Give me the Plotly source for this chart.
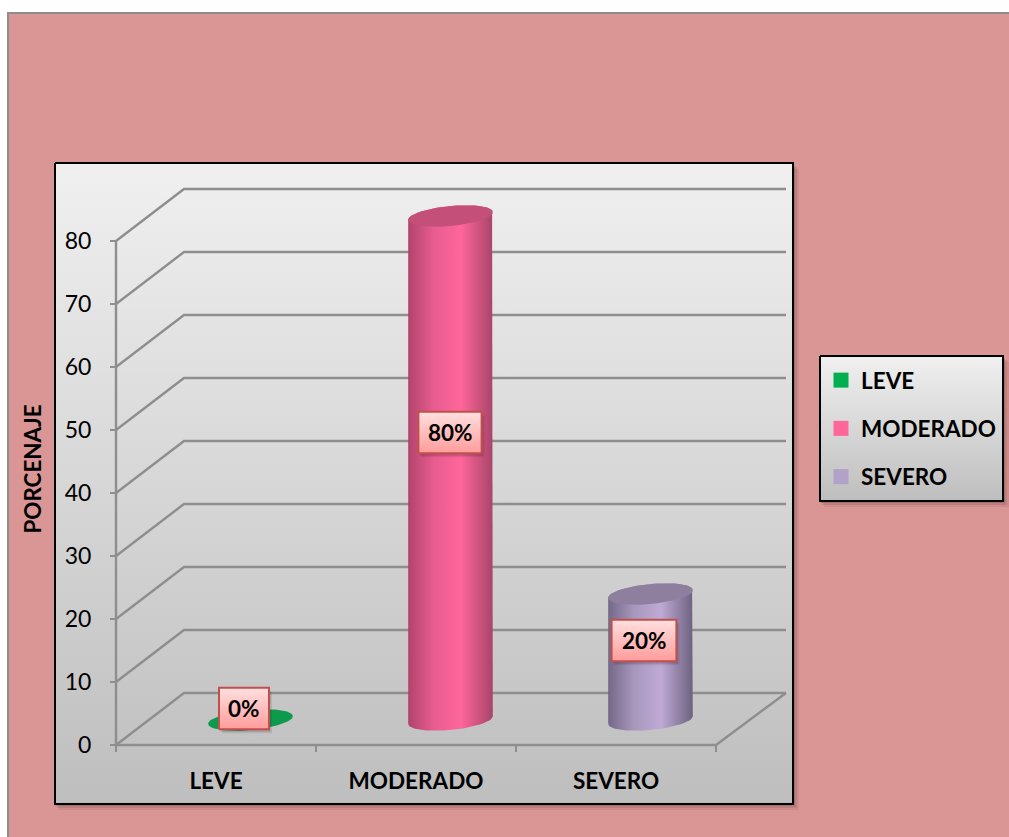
import numpy as np
import plotly.graph_objects as go

categories = ["LEVE", "MODERADO", "SEVERO"]
values = [0, 80, 20]
y_ticks = [0, 10, 20, 30, 40, 50, 60, 70, 80]
bar_body = [
    ["#0E9A4D", "#0E9A4D", "#0E9A4D", "#0E9A4D"],
    ["#B0446C", "#E85C90", "#FF669A", "#A8456A"],
    ["#746887", "#A797BC", "#BFAAD6", "#6E6280"],
]
bar_top = ["#0E9A4D", "#C4507A", "#8F7F9E"]
legend_colors = ["#00B050", "#FF6699", "#B3A2C7"]

W, H = 1009, 837
# pixels per axis unit on the data axes
PX_CAT, PX_VAL = 200, 6.3
ZERO_PX = 745
FONT = "Lato"


def bg_rect(x0, y0, x1, y1, top, bottom):
    # gradient panel, given in page pixels
    return go.Scatter(x=[x0, x1, x1, x0, x0], y=[H-y0, H-y0, H-y1, H-y1, H-y0],
                      mode="lines", fill="toself", line=dict(color="black", width=2),
                      fillgradient=dict(type="vertical", colorscale=[[0, bottom], [1, top]]),
                      xaxis="x", yaxis="y", showlegend=False, hoverinfo="skip")


def ellipse(cat, val, angles):
    ex, ey = 42.5*np.cos(angles), 10*np.sin(angles)
    tilt = 0.096
    px = ex*np.cos(tilt) - ey*np.sin(tilt)
    py = ex*np.sin(tilt) + ey*np.cos(tilt)
    return cat + (34.5 + px)/PX_CAT, val + (25 + py)/PX_VAL


fig = go.Figure()

# page background + shadows
shapes = [
    dict(type="rect", xref="paper", yref="paper", x0=8/W, x1=1.01, y0=-0.01, y1=1-13/H,
         fillcolor="#DA9694", line=dict(color="#8C8C8C", width=2), layer="below"),
]
for off, alpha in [(6, 0.08), (4, 0.12), (2, 0.18)]:
    for x0, y0, x1, y1 in [(55, 163, 793, 804), (820, 356, 1003, 501)]:
        shapes.append(dict(type="rect", xref="paper", yref="paper",
                           x0=(x0+off-2)/W, x1=(x1+off)/W, y0=1-(y1+off)/H, y1=1-(y0+off)/H,
                           fillcolor=f"rgba(60,30,30,{alpha})", line=dict(width=0), layer="below"))

fig.add_trace(bg_rect(55, 163, 793, 804, "#F0F0F0", "#BEBEBE"))
fig.add_trace(bg_rect(820, 356, 1003, 501, "#F0F0F0", "#BEBEBE"))

# walls and floor grid
back_cat, back_val = 68/PX_CAT, 52/PX_VAL
back_right = 2.85
grid_x, grid_y = [], []
for v in y_ticks:
    grid_x += [-0.5, -0.5+back_cat, back_right, None]
    grid_y += [v, v+back_val, v+back_val, None]
grid_x += [back_right, 2.5, -0.5, -0.5, None]
grid_y += [back_val, 0, 0, y_ticks[-1], None]
fig.add_trace(go.Scatter(x=grid_x, y=grid_y, mode="lines", line=dict(color="#8E8E8E", width=2.4),
                         xaxis="x2", yaxis="y2", showlegend=False, hoverinfo="skip"))

# cylinders
for i, v in enumerate(values):
    low, high = np.linspace(np.pi, 2*np.pi, 40), np.linspace(0, np.pi, 40)
    x0, y0 = ellipse(i, 0, low)
    x1, y1 = ellipse(i, v, high)
    stops = [0, 0.3, 0.62, 1]
    if v > 0:
        fig.add_trace(go.Scatter(x=list(x0)+list(x1), y=list(y0)+list(y1), mode="lines", fill="toself",
                                 line=dict(width=0),
                                 fillgradient=dict(type="horizontal",
                                                   colorscale=[[s, c] for s, c in zip(stops, bar_body[i])]),
                                 xaxis="x2", yaxis="y2", showlegend=False, hoverinfo="skip"))
    t = np.linspace(0, 2*np.pi, 80)
    tx, ty = ellipse(i, v, t)
    fig.add_trace(go.Scatter(x=tx, y=ty, mode="lines", fill="toself", fillcolor=bar_top[i],
                             line=dict(width=0), xaxis="x2", yaxis="y2",
                             showlegend=False, hoverinfo="skip"))

# data labels: centre (category offset, axis value) and half size in axis units
label_pos = [(0.14, 5.8), (0.17, 49.6), (0.14, 16.6)]
label_half = [(0.125, 3.3), (0.158, 3.3), (0.162, 3.3)]
annotations = []
for i, v in enumerate(values):
    cx, cy = i + label_pos[i][0], label_pos[i][1]
    hx, hy = label_half[i]
    for grow, alpha in [(3, 0.10), (1.5, 0.14)]:
        sx, sy = grow/PX_CAT, (grow+1)/PX_VAL
        fig.add_trace(go.Scatter(x=[cx-hx+sx, cx+hx+sx, cx+hx+sx, cx-hx+sx, cx-hx+sx],
                                 y=[cy-hy-sy, cy-hy-sy, cy+hy-sy, cy+hy-sy, cy-hy-sy],
                                 mode="lines", fill="toself", fillcolor=f"rgba(40,20,30,{alpha})", line=dict(width=0),
                                 xaxis="x2", yaxis="y2", showlegend=False, hoverinfo="skip"))
    fig.add_trace(go.Scatter(x=[cx-hx, cx+hx, cx+hx, cx-hx, cx-hx], y=[cy-hy, cy-hy, cy+hy, cy+hy, cy-hy],
                             mode="lines", fill="toself", line=dict(color="#C0504D", width=2),
                             fillgradient=dict(type="vertical", colorscale=[[0, "#FF9C9B"], [1, "#FFE0DF"]]),
                             xaxis="x2", yaxis="y2", showlegend=False, hoverinfo="skip"))
    annotations.append(dict(x=cx, y=cy, xref="x2", yref="y2", text=f"<b>{v}%</b>", showarrow=False,
                            font=dict(family=FONT, size=22.5, color="black")))

# legend entries
for name, col in zip(categories, legend_colors):
    fig.add_trace(go.Scatter(x=[None], y=[None], mode="markers", name=name, legendgroup=name,
                             marker=dict(symbol="square", size=15, color=col),
                             xaxis="x2", yaxis="y2"))

fig.update_layout(
    width=W, height=H, autosize=False,
    margin=dict(l=0, r=0, t=0, b=0),
    paper_bgcolor="white", plot_bgcolor="rgba(0,0,0,0)",
    shapes=shapes, annotations=annotations,
    font=dict(family=FONT, color="black"),
    showlegend=True,
    legend=dict(x=821/W, y=1-359/H, xanchor="left", yanchor="top", bgcolor="rgba(0,0,0,0)",
                tracegroupgap=16, itemwidth=30, font=dict(family=FONT, size=22.5, weight="bold")),
    xaxis=dict(domain=[0, 1], range=[0, W], visible=False, fixedrange=True),
    yaxis=dict(domain=[0, 1], range=[0, H], visible=False, fixedrange=True),
    xaxis2=dict(domain=[55/W, 793/W], range=[(55-216)/PX_CAT, (793-216)/PX_CAT],
                anchor="free", position=(H-ZERO_PX)/H, showgrid=False, zeroline=False, showline=False,
                tickmode="array", tickvals=[0, 1, 2], ticktext=[f"<b>{c}</b>" for c in categories],
                ticks="", ticklabelstandoff=20, tickfont=dict(family=FONT, size=22.5),
                minor=dict(tickmode="array", tickvals=[-0.5, 0.5, 1.5, 2.5], ticks="outside",
                           ticklen=6, tickwidth=2, tickcolor="#8E8E8E")),
    yaxis2=dict(domain=[(H-804)/H, (H-134)/H], range=[(ZERO_PX-804)/PX_VAL, (ZERO_PX-134)/PX_VAL],
                anchor="free", position=116/W, showgrid=False, zeroline=False, showline=False,
                tickmode="array", tickvals=y_ticks, ticks="outside", ticklen=6, tickwidth=2,
                tickcolor="#8E8E8E", ticklabelstandoff=14, tickfont=dict(family=FONT, size=23),
                title=dict(text="<b>PORCENAJE</b>", font=dict(family=FONT, size=22.4), standoff=15)),
)

fig.write_html("out.html", config=dict(displayModeBar=False),
               post_script="document.body.style.margin='0';")
